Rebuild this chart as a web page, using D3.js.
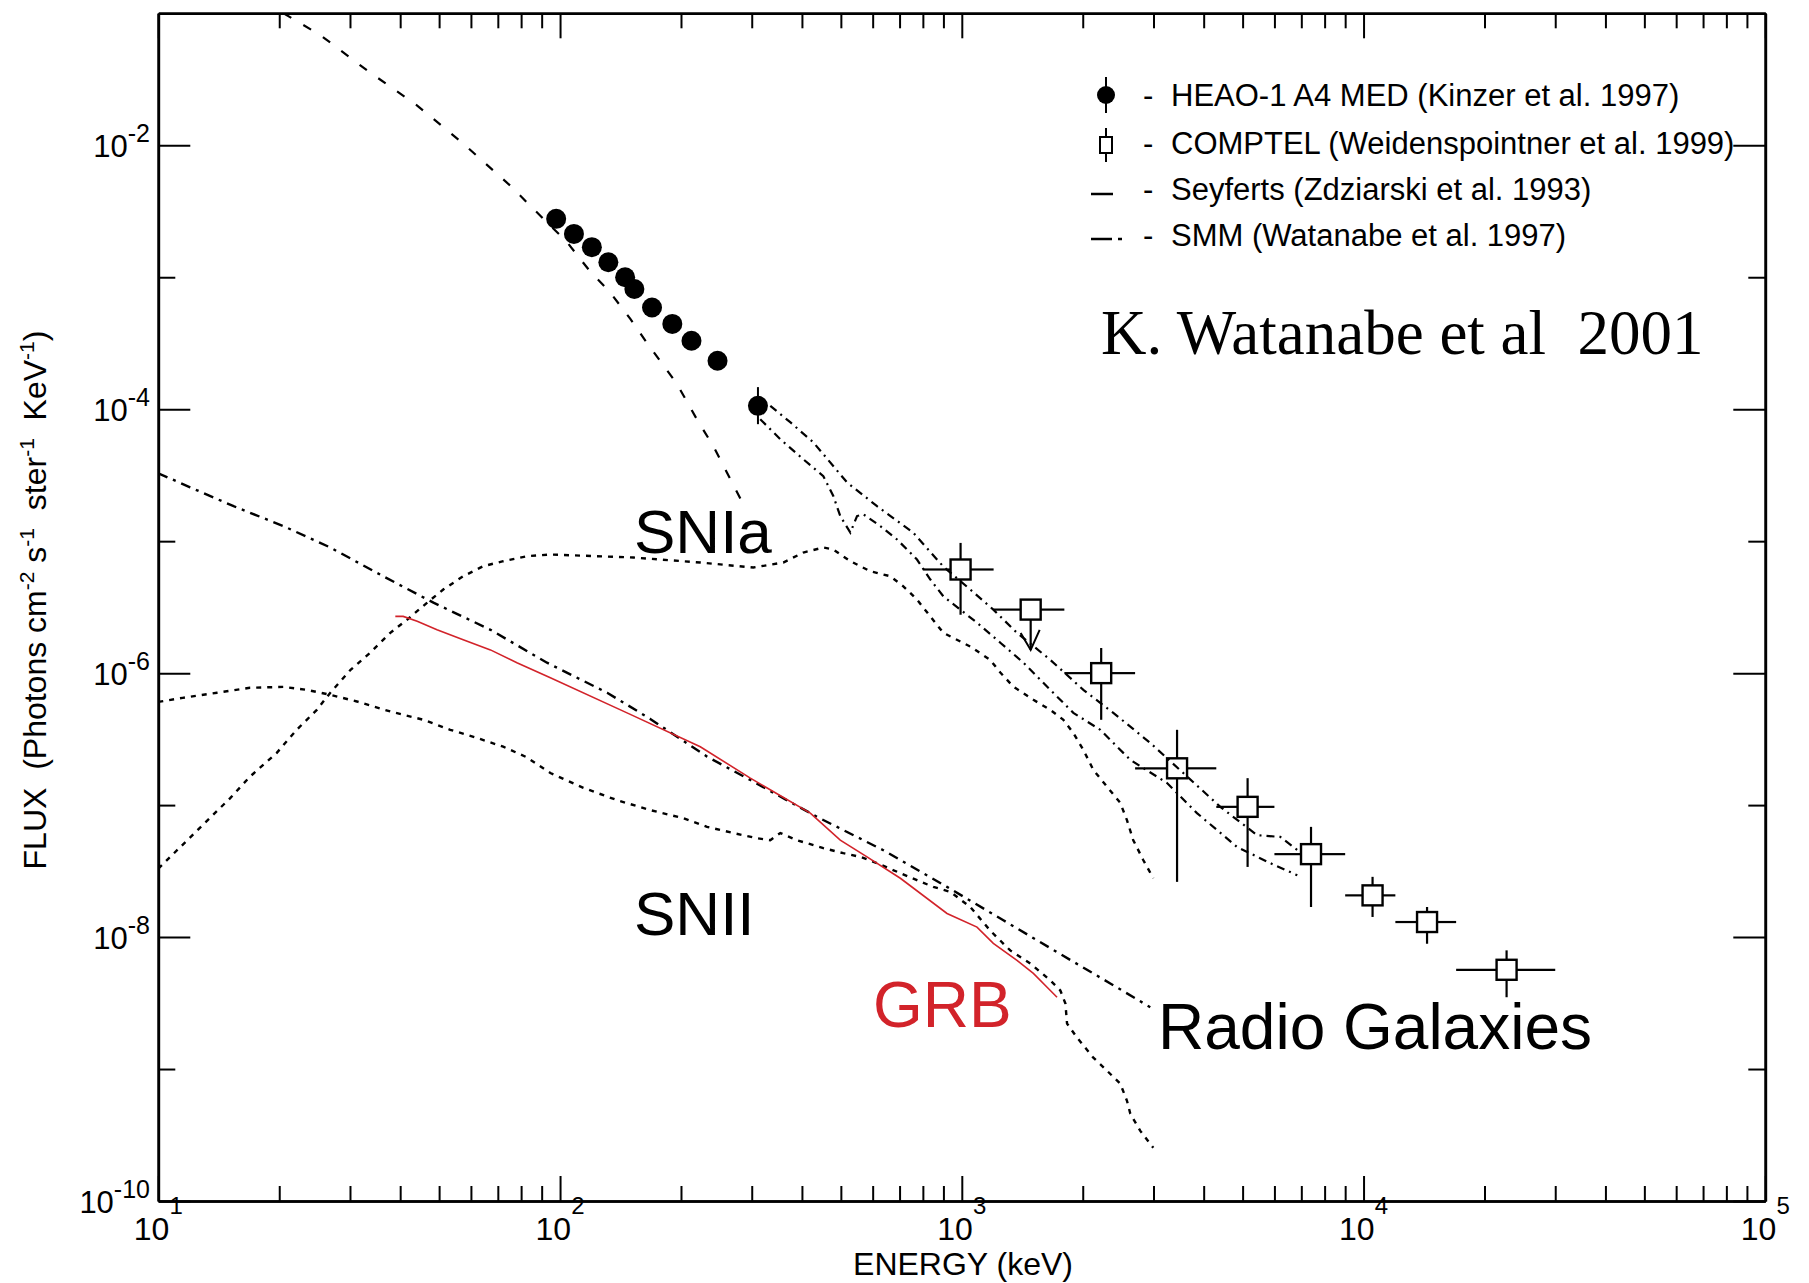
<!DOCTYPE html>
<html>
<head>
<meta charset="utf-8">
<script src="https://cdn.jsdelivr.net/npm/d3@7"></script>
<style>
  body { margin: 0; background: #fff; }
  svg { display: block; }
  text { font-family: "Liberation Sans", Arial, sans-serif; fill: #000; }
</style>
</head>
<body>
<svg id="chart" width="1809" height="1283"></svg>
<script>
// ---- data (energy in keV, flux in photons cm^-2 s^-1 sr^-1 keV^-1)

// HEAO-1 A4 MED filled circles
var heaoE  = [97.8, 108.3, 120, 131.9, 145.2, 153.1, 169.4, 190.3, 212.4, 246.6, 310.9];
var heaoF  = [2.77e-3, 2.13e-3, 1.69e-3, 1.30e-3, 1.0e-3, 8.15e-4, 5.9e-4, 4.43e-4, 3.3e-4, 2.33e-4, 1.06e-4];
var heaoHi = [3.0e-3, 2.3e-3, 1.83e-3, 1.41e-3, 1.08e-3, 8.8e-4, 6.4e-4, 4.8e-4, 3.6e-4, 2.55e-4, 1.47e-4];
var heaoLo = [2.55e-3, 1.96e-3, 1.56e-3, 1.2e-3, 9.2e-4, 7.5e-4, 5.4e-4, 4.06e-4, 3.0e-4, 2.12e-4, 7.7e-5];

// COMPTEL open squares
var comptelE   = [993, 1484, 2223, 3434, 5145, 7400, 10530, 14390, 22700];
var comptelElo = [800, 1200, 1800, 2700, 4300, 6000, 9000, 12000, 17000];
var comptelEhi = [1200, 1800, 2700, 4300, 6000, 9000, 12000, 17000, 30000];
var comptelF   = [6.1e-6, 3.03e-6, 1.0e-6, 1.9e-7, 9.7e-8, 4.25e-8, 2.07e-8, 1.3e-8, 5.65e-9];
var comptelFhi = [9.7e-6, 3.03e-6, 1.55e-6, 3.72e-7, 1.6e-7, 6.84e-8, 2.86e-8, 1.69e-8, 7.93e-9];
var comptelFlo = [2.77e-6, 1.5e-6, 4.43e-7, 2.62e-8, 3.4e-8, 1.69e-8, 1.42e-8, 8.9e-9, 3.5e-9];
var comptelUL  = [false, true, false, false, false, false, false, false, false];

// Seyferts (Zdziarski et al. 1993)
var seyfertE = [20.5, 25.3, 33.1, 44.1, 57.4, 75.2, 84.3, 104, 119, 133, 149.6, 164, 195.5, 219, 240.6, 260, 286];
var seyfertF = [1.0e-1, 6.84e-2, 3.69e-2, 2.0e-2, 1.03e-2, 4.94e-3, 3.48e-3, 1.85e-3, 1.1e-3, 7.74e-4, 4.83e-4, 3.23e-4, 1.55e-4, 8.4e-5, 5.26e-5, 3.33e-5, 1.9e-5];

// SMM (Watanabe et al. 1997), upper and lower curves
var smmUpE = [333.7, 374, 427, 517.9, 615.2, 757.3, 899.5, 1050, 1198, 1372, 1661, 2007, 2383, 2945, 3559, 4400, 5430, 6205, 6958];
var smmUpF = [1.06e-4, 7.97e-5, 5.61e-5, 2.79e-5, 1.84e-5, 1.16e-5, 6.42e-6, 4.3e-6, 3.03e-6, 2.02e-6, 1.26e-6, 7.47e-7, 5.0e-7, 2.96e-7, 1.75e-7, 9.7e-8, 5.92e-8, 5.74e-8, 4.4e-8];
var smmLoE = [315, 353.4, 403.2, 452.2, 478.8, 498.3, 527.9, 548.6, 568.7, 627, 690, 773.5, 835, 899.5, 1091, 1247, 1423, 1689, 1895, 2212, 2627, 3243, 3849, 4842, 5861, 6840];
var smmLoF = [8.4e-5, 5.92e-5, 4.17e-5, 3.11e-5, 2.2e-5, 1.55e-5, 1.16e-5, 1.55e-5, 1.6e-5, 1.3e-5, 1.03e-5, 7.26e-6, 5.12e-6, 3.82e-6, 2.41e-6, 1.7e-6, 1.2e-6, 7.1e-7, 5.0e-7, 3.72e-7, 2.2e-7, 1.47e-7, 8.7e-8, 4.82e-8, 3.63e-8, 2.94e-8];

// SNIa
var snIaE = [10, 15.1, 16.9, 19.7, 22.1, 24.8, 26.8, 30.1, 33.7, 37.8, 41.6, 46.7, 51.2, 57.4, 64.4, 72.2, 82.7, 94.6, 152.2, 223.4, 302.7, 359.5, 403.2, 452.2, 478.8, 527.9, 592, 663.8, 715.3, 773.5, 835, 899.5, 1050, 1177, 1247, 1343, 1507, 1661, 1790, 1895, 2007, 2125, 2298, 2480, 2577, 2672, 2831, 2997];
var snIaF = [3.3e-8, 1.13e-7, 1.64e-7, 2.48e-7, 3.72e-7, 5.27e-7, 7.1e-7, 1.06e-6, 1.43e-6, 2.02e-6, 2.54e-6, 3.42e-6, 4.3e-6, 5.42e-6, 6.46e-6, 7.05e-6, 7.69e-6, 7.92e-6, 7.52e-6, 6.89e-6, 6.31e-6, 6.89e-6, 8.2e-6, 8.95e-6, 8.65e-6, 7.05e-6, 5.92e-6, 5.42e-6, 4.55e-6, 3.61e-6, 2.69e-6, 2.02e-6, 1.59e-6, 1.26e-6, 1.01e-6, 7.92e-7, 6.28e-7, 5.27e-7, 4.43e-7, 3.52e-7, 2.62e-7, 1.85e-7, 1.38e-7, 1.04e-7, 7.69e-8, 5.42e-8, 3.82e-8, 2.79e-8];

// SNII
var snIIE = [10, 11.5, 14.0, 16.9, 20.5, 23.4, 26.8, 31.2, 37.8, 45.7, 53.3, 62.1, 72.2, 82.7, 94.6, 114.3, 138.7, 167.7, 202.7, 232.2, 270, 309.2, 333.7, 353.4, 388.9, 452.2, 507, 559, 615.2, 703.1, 773.5, 849.6, 936.3, 1050, 1177, 1320, 1481, 1661, 1759, 1811, 1828, 1936, 2125, 2298, 2480, 2577, 2627, 2782, 2997];
var snIIF = [6.05e-7, 6.5e-7, 7.1e-7, 7.74e-7, 7.87e-7, 7.47e-7, 6.85e-7, 6.1e-7, 5.12e-7, 4.43e-7, 3.72e-7, 3.23e-7, 2.77e-7, 2.3e-7, 1.75e-7, 1.35e-7, 1.09e-7, 9.16e-8, 7.96e-8, 6.84e-8, 6.14e-8, 5.61e-8, 5.42e-8, 6.14e-8, 5.42e-8, 4.72e-8, 4.32e-8, 4.05e-8, 3.63e-8, 3.05e-8, 2.7e-8, 2.4e-8, 2.2e-8, 1.69e-8, 1.12e-8, 7.92e-9, 6.31e-9, 4.69e-9, 3.94e-9, 3.13e-9, 2.21e-9, 1.73e-9, 1.22e-9, 9.72e-10, 7.74e-10, 5.75e-10, 4.58e-10, 3.4e-10, 2.53e-10];

// Radio galaxies
var radioE = [10, 12.0, 15.4, 20.5, 26.8, 36.3, 48.4, 67.1, 92.8, 131, 167.7, 232.2, 297.6, 436.2, 637.8, 918.8, 1269, 1726, 2342, 2945];
var radioF = [3.27e-5, 2.56e-5, 1.84e-5, 1.3e-5, 8.95e-6, 5.42e-6, 3.42e-6, 2.13e-6, 1.2e-6, 7.1e-7, 4.5e-7, 2.33e-7, 1.55e-7, 8.15e-8, 4.55e-8, 2.4e-8, 1.34e-8, 7.69e-9, 4.45e-9, 2.94e-9];

// GRB (red)
var grbE = [38.9, 40.7, 44.1, 49.4, 57.4, 67.1, 78.1, 94.6, 146.8, 223.4, 297.6, 419.7, 498.3, 580.8, 703.1, 918.8, 1091, 1198, 1372, 1507, 1661, 1726];
var grbF = [2.69e-6, 2.69e-6, 2.47e-6, 2.13e-6, 1.79e-6, 1.5e-6, 1.2e-6, 9.22e-7, 5.0e-7, 2.77e-7, 1.6e-7, 8.7e-8, 5.42e-8, 4.05e-8, 2.79e-8, 1.51e-8, 1.19e-8, 8.95e-9, 6.65e-9, 5.3e-9, 3.94e-9, 3.5e-9];

// axis ticks
var xMajor = [10, 100, 1000, 10000, 100000];
var xExp   = ["1", "2", "3", "4", "5"];
var yLabelled = [1e-2, 1e-4, 1e-6, 1e-8, 1e-10];
var yExp      = ["-2", "-4", "-6", "-8", "-10"];
var yShort    = [1e-3, 1e-5, 1e-7, 1e-9];

var legendRows = [
  "HEAO-1 A4 MED (Kinzer et al. 1997)",
  "COMPTEL (Weidenspointner et al. 1999)",
  "Seyferts (Zdziarski et al. 1993)",
  "SMM (Watanabe et al. 1997)"
];

// ---- layout
var W = 1809, H = 1283;
var margin = {top: 13.3, right: 43.7, bottom: 82, left: 158.3};
var svg = d3.select("#chart");

var x = d3.scaleLog().domain([10, 1e5]).range([margin.left, W - margin.right]);
var y = d3.scaleLog().domain([1e-10, 1e-1]).range([H - margin.bottom, margin.top]);

var xMinor = [];
xMajor.slice(0, 4).forEach(function(d) {
  for (var k = 2; k <= 9; k++) xMinor.push(k * d);
});

function zip(E, F) { return E.map(function(e, i) { return [e, F[i]]; }); }

svg.append("defs").append("clipPath").attr("id", "plotclip")
  .append("rect")
  .attr("x", margin.left).attr("y", margin.top)
  .attr("width", W - margin.left - margin.right)
  .attr("height", H - margin.top - margin.bottom);

var plot = svg.append("g").attr("clip-path", "url(#plotclip)");

var line = d3.line().x(function(d) { return x(d[0]); }).y(function(d) { return y(d[1]); });

var curves = [
  {data: zip(seyfertE, seyfertF), dash: "9,14", color: "#000", w: 2.2},
  {data: zip(smmUpE, smmUpF),     dash: "8,5,2,5", color: "#000", w: 2.2},
  {data: zip(smmLoE, smmLoF),     dash: "8,5,2,5", color: "#000", w: 2.2},
  {data: zip(snIaE, snIaF),       dash: "5,6", color: "#000", w: 2.4},
  {data: zip(snIIE, snIIF),       dash: "5,6", color: "#000", w: 2.4},
  {data: zip(radioE, radioF),     dash: "10,6,3,6", color: "#000", w: 2.4},
  {data: zip(grbE, grbF),         dash: null, color: "#d2232a", w: 1.6}
];

curves.forEach(function(c) {
  plot.append("path")
    .datum(c.data)
    .attr("d", line)
    .attr("fill", "none")
    .attr("stroke", c.color)
    .attr("stroke-width", c.w)
    .attr("stroke-dasharray", c.dash);
});

// HEAO points
var heao = heaoE.map(function(e, i) { return {e: e, f: heaoF[i], hi: heaoHi[i], lo: heaoLo[i]}; });
plot.selectAll(".heao-err").data(heao).enter().append("line")
  .attr("x1", function(d) { return x(d.e); }).attr("x2", function(d) { return x(d.e); })
  .attr("y1", function(d) { return y(d.hi); }).attr("y2", function(d) { return y(d.lo); })
  .attr("stroke", "#000").attr("stroke-width", 2);
plot.selectAll(".heao").data(heao).enter().append("circle")
  .attr("cx", function(d) { return x(d.e); })
  .attr("cy", function(d) { return y(d.f); })
  .attr("r", 10)
  .attr("fill", "#000");

// COMPTEL points
var half = 10;
var comptel = comptelE.map(function(e, i) {
  return {e: e, elo: comptelElo[i], ehi: comptelEhi[i], f: comptelF[i], hi: comptelFhi[i], lo: comptelFlo[i], ul: comptelUL[i]};
});
var cg = plot.selectAll(".comptel").data(comptel).enter().append("g");
cg.each(function(d) {
  var g = d3.select(this);
  var cx = x(d.e), cy = y(d.f);
  var segs = [
    [x(d.elo), cy, cx - half, cy],
    [cx + half, cy, x(d.ehi), cy],
    [cx, cy + half, cx, y(d.lo)]
  ];
  if (y(d.hi) < cy - half) segs.push([cx, y(d.hi), cx, cy - half]);
  segs.forEach(function(s) {
    g.append("line").attr("x1", s[0]).attr("y1", s[1]).attr("x2", s[2]).attr("y2", s[3])
      .attr("stroke", "#000").attr("stroke-width", 2.2);
  });
  if (d.ul) {
    var ty = y(d.lo);
    g.append("path")
      .attr("d", "M" + (cx - 10) + "," + (ty - 17) + "L" + cx + "," + ty + "L" + (cx + 9) + "," + (ty - 20))
      .attr("fill", "none").attr("stroke", "#000").attr("stroke-width", 2);
  }
  g.append("rect")
    .attr("x", cx - half).attr("y", cy - half)
    .attr("width", 2 * half).attr("height", 2 * half)
    .attr("fill", "none").attr("stroke", "#000").attr("stroke-width", 2.4);
});

// ---- axes (ticks drawn inward on all four sides)
function styleAxis(g) {
  g.selectAll("path.domain").attr("stroke", "#000").attr("stroke-width", 2.6);
  g.selectAll(".tick line").attr("stroke", "#000").attr("stroke-width", 2);
}
var bottomY = H - margin.bottom, rightX = W - margin.right;

svg.append("g").attr("transform", "translate(0," + bottomY + ")")
  .call(d3.axisBottom(x).tickValues(xMajor).tickSize(-25).tickSizeOuter(0).tickFormat("")).call(styleAxis);
svg.append("g").attr("transform", "translate(0," + bottomY + ")")
  .call(d3.axisBottom(x).tickValues(xMinor).tickSize(-15).tickSizeOuter(0).tickFormat("")).call(styleAxis);
svg.append("g").attr("transform", "translate(0," + margin.top + ")")
  .call(d3.axisTop(x).tickValues(xMajor).tickSize(-25).tickSizeOuter(0).tickFormat("")).call(styleAxis);
svg.append("g").attr("transform", "translate(0," + margin.top + ")")
  .call(d3.axisTop(x).tickValues(xMinor).tickSize(-15).tickSizeOuter(0).tickFormat("")).call(styleAxis);

svg.append("g").attr("transform", "translate(" + margin.left + ",0)")
  .call(d3.axisLeft(y).tickValues(yLabelled).tickSize(-32).tickSizeOuter(0).tickFormat("")).call(styleAxis);
svg.append("g").attr("transform", "translate(" + margin.left + ",0)")
  .call(d3.axisLeft(y).tickValues(yShort).tickSize(-17).tickSizeOuter(0).tickFormat("")).call(styleAxis);
svg.append("g").attr("transform", "translate(" + rightX + ",0)")
  .call(d3.axisRight(y).tickValues(yLabelled).tickSize(-32).tickSizeOuter(0).tickFormat("")).call(styleAxis);
svg.append("g").attr("transform", "translate(" + rightX + ",0)")
  .call(d3.axisRight(y).tickValues(yShort).tickSize(-17).tickSizeOuter(0).tickFormat("")).call(styleAxis);

// tick labels with superscript exponents
xMajor.forEach(function(v, i) {
  var t = svg.append("text").attr("x", x(v)).attr("y", 1240)
    .attr("text-anchor", "middle").attr("font-size", 32);
  t.append("tspan").text("10");
  t.append("tspan").attr("dy", -26).attr("font-size", 24).text(xExp[i]);
});
yLabelled.forEach(function(v, i) {
  var t = svg.append("text").attr("x", 150).attr("y", y(v) + 12)
    .attr("text-anchor", "end").attr("font-size", 31);
  t.append("tspan").text("10");
  t.append("tspan").attr("dy", -15).attr("font-size", 25).text(yExp[i]);
});

// axis titles
svg.append("text").attr("x", 963).attr("y", 1275).attr("text-anchor", "middle")
  .attr("font-size", 32).text("ENERGY (keV)");

var yt = svg.append("text")
  .attr("transform", "translate(46,600) rotate(-90)")
  .attr("text-anchor", "middle").attr("font-size", 32)
  .style("white-space", "pre");
[["FLUX  (Photons cm", 0], ["-2", -12], [" s", 12], ["-1", -12], ["  ster", 12], ["-1", -12], ["  KeV", 12], ["-1", -12], [")", 12]]
  .forEach(function(p) {
    var s = yt.append("tspan").attr("dy", p[1]).text(p[0]);
    if (p[1] < 0) s.attr("font-size", 21);
  });

// ---- legend
var rowY = [106, 154, 200, 246];
legendRows.forEach(function(r, i) {
  svg.append("text").attr("x", 1143).attr("y", rowY[i]).attr("font-size", 31).text("-");
  svg.append("text").attr("x", 1171).attr("y", rowY[i]).attr("font-size", 31).text(r);
});
svg.append("line").attr("x1", 1106).attr("x2", 1106).attr("y1", 77).attr("y2", 113)
  .attr("stroke", "#000").attr("stroke-width", 2);
svg.append("circle").attr("cx", 1106).attr("cy", 95).attr("r", 9).attr("fill", "#000");
svg.append("line").attr("x1", 1106).attr("x2", 1106).attr("y1", 128).attr("y2", 162)
  .attr("stroke", "#000").attr("stroke-width", 2);
svg.append("rect").attr("x", 1100).attr("y", 137).attr("width", 12).attr("height", 16)
  .attr("fill", "#fff").attr("stroke", "#000").attr("stroke-width", 2);
svg.append("line").attr("x1", 1091).attr("x2", 1113).attr("y1", 194).attr("y2", 194)
  .attr("stroke", "#000").attr("stroke-width", 2.5);
svg.append("line").attr("x1", 1091).attr("x2", 1112).attr("y1", 239).attr("y2", 239)
  .attr("stroke", "#000").attr("stroke-width", 2.5);
svg.append("line").attr("x1", 1118).attr("x2", 1122).attr("y1", 239).attr("y2", 239)
  .attr("stroke", "#000").attr("stroke-width", 2.5);

// ---- annotations
svg.append("text").attr("x", 1101).attr("y", 354)
  .style("font-family", "'Liberation Serif', 'Times New Roman', serif")
  .style("white-space", "pre")
  .attr("font-size", 63).text("K. Watanabe et al  2001");
svg.append("text").attr("x", 634).attr("y", 553).attr("font-size", 62).text("SNIa");
svg.append("text").attr("x", 634).attr("y", 935).attr("font-size", 62).text("SNII");
svg.append("text").attr("x", 873).attr("y", 1027).attr("font-size", 64)
  .style("fill", "#d2232a").text("GRB");
svg.append("text").attr("x", 1158).attr("y", 1049).attr("font-size", 64).text("Radio Galaxies");
</script>
</body>
</html>
